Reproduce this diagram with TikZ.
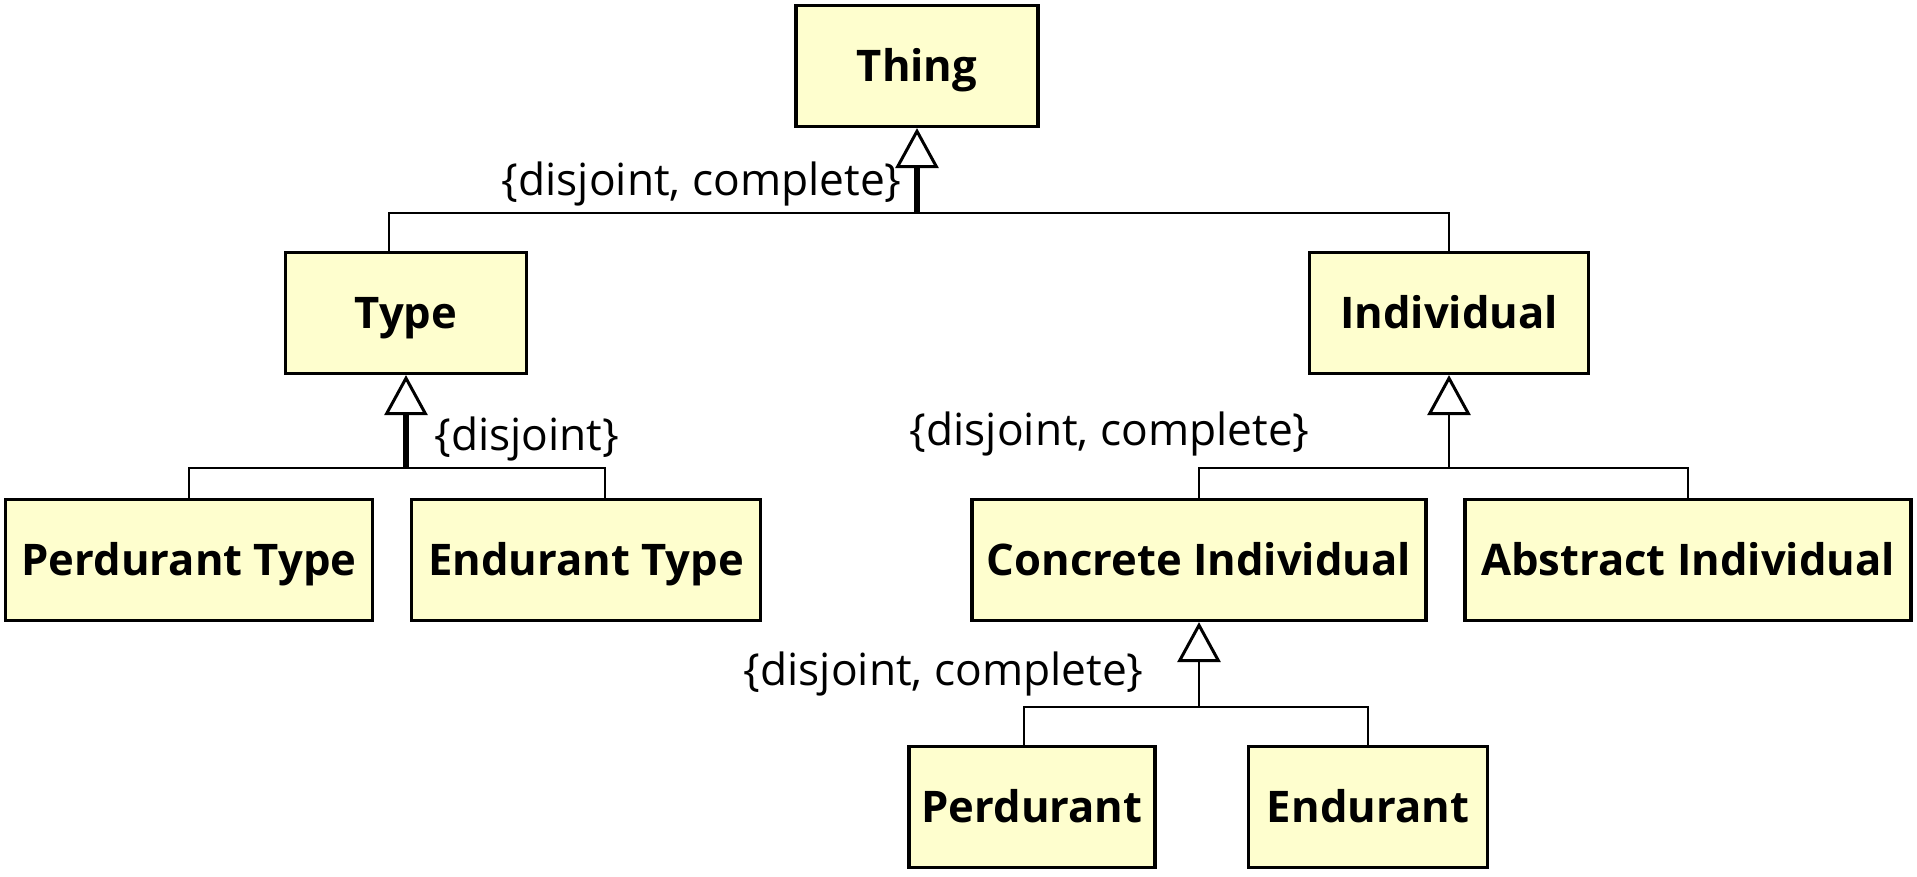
\documentclass[tikz,border=0pt]{standalone}
\usepackage{fontspec}
\setmainfont{Open Sans}
\usetikzlibrary{arrows.meta}
\definecolor{umlfill}{HTML}{FEFECE}

\begin{document}
\begin{tikzpicture}[x=0.02cm, y=-0.02cm,
    cls/.style={draw=black, line width=1.8pt, fill=umlfill, inner sep=0pt,
        minimum height=2.42cm, text height=0.63cm, text depth=0pt,
        font=\bfseries\fontsize{24.8}{28}\selectfont},
    gen/.style={-{Triangle[open, fill=white, length=0.8cm, width=0.86cm, line width=1.7pt]}, line width=1.4pt},
    genthick/.style={gen, line width=3.2pt},
    bus/.style={line width=1.4pt},
    constraint/.style={inner sep=0pt, font=\fontsize{25.2}{28}\selectfont}]

    \useasboundingbox (0,0) rectangle (1917,876);

    % class boxes
    \node[cls, minimum width=4.84cm] (thing) at (917,66) {Thing};
    \node[cls, minimum width=4.82cm] (type) at (406,313) {Type};
    \node[cls, minimum width=5.58cm] (individual) at (1449,313) {Individual};
    \node[cls, minimum width=7.34cm] (perdType) at (189,560) {Perdurant Type};
    \node[cls, minimum width=6.98cm] (endType) at (586,560) {Endurant Type};
    \node[cls, minimum width=9.08cm] (concrete) at (1199,560) {Concrete Individual};
    \node[cls, minimum width=8.92cm] (abstract) at (1688,560) {Abstract Individual};
    \node[cls, minimum width=4.92cm] (perdurant) at (1032,807) {Perdurant};
    \node[cls, minimum width=4.78cm] (endurant) at (1368,807) {Endurant};

    % junctions of the generalisation sets
    \coordinate (jThing) at (917,213);
    \coordinate (jType) at (406,468);
    \coordinate (jIndiv) at (1449,468);
    \coordinate (jConcrete) at (1199,707);

    % generalisations
    \draw[genthick] (jThing) -- (thing);
    \draw[bus] ([xshift=-0.34cm]type.north) |- (jThing) -| (individual.north);

    \draw[genthick] (jType) -- (type);
    \draw[bus] (perdType.north) |- (jType) -| ([xshift=0.38cm]endType.north);

    \draw[gen] (jIndiv) -- (individual);
    \draw[bus] (concrete.north) |- (jIndiv) -| (abstract.north);

    \draw[gen] (jConcrete) -- (concrete);
    \draw[bus] ([xshift=-0.16cm]perdurant.north) |- (jConcrete) -| (endurant.north);

    % constraints
    \node[constraint, anchor=east] (cThing) at (902,184) {\{disjoint, complete\}};
    \node[constraint, anchor=west] (cType) at (434,439) {\{disjoint\}};
    \node[constraint, anchor=east] (cIndiv) at (1310,434) {\{disjoint, complete\}};
    \node[constraint, anchor=east] (cConcrete) at (1144,674) {\{disjoint, complete\}};

\end{tikzpicture}
\end{document}
